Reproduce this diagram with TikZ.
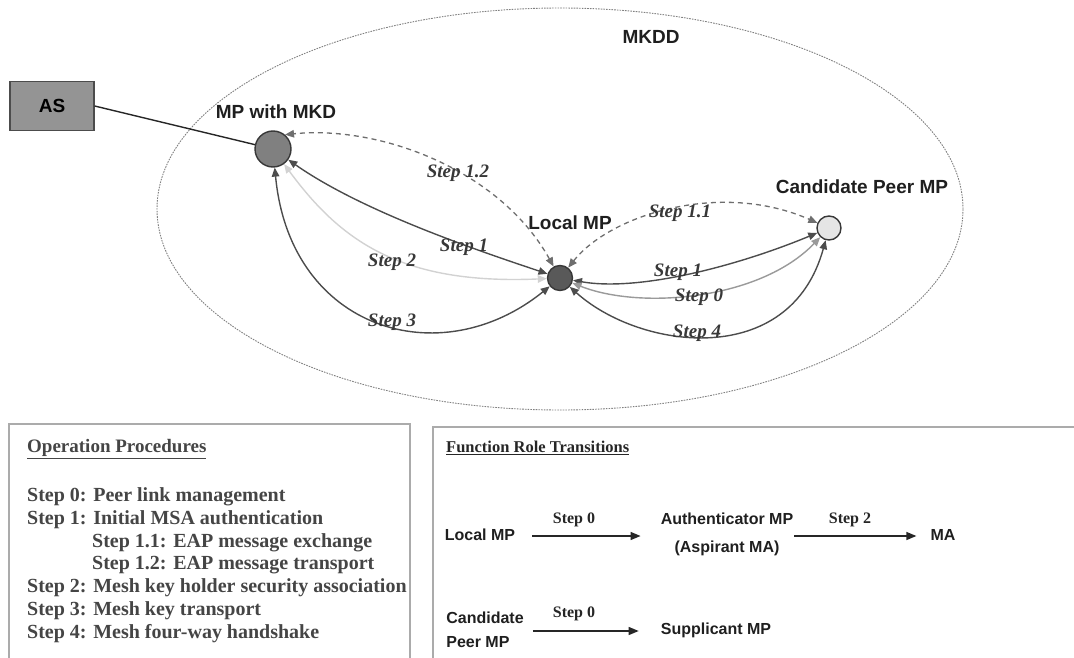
\documentclass[tikz,border=0pt]{standalone}
\usepackage{fontspec}
\setmainfont{Liberation Serif}
\setsansfont{Liberation Sans}
\usetikzlibrary{arrows.meta}
\definecolor{linkdark}{HTML}{4C4C4C}
\definecolor{linkmid}{HTML}{9A9A9A}
\definecolor{linklight}{HTML}{D2D2D2}
\definecolor{linkdash}{HTML}{6E6E6E}
\definecolor{panelrule}{HTML}{ABABAB}
\definecolor{proctext}{HTML}{454545}
\begin{document}
\begin{tikzpicture}[x=1pt,y=-1pt,
  every node/.style={inner sep=0pt},
  site/.style={circle,draw=black!78,line width=1.4pt,inner sep=0pt},
  sitelabel/.style={font=\sffamily\bfseries\fontsize{19}{22}\selectfont,text=black!88},
  steplabel/.style={font=\bfseries\itshape\fontsize{19}{22}\selectfont,text=black!78},
  tips/.style={{Triangle[length=9pt,width=7.5pt]}-{Triangle[length=9pt,width=7.5pt]}},
  link/.style={tips,line width=1.4pt,draw=linkdark},
  linkzero/.style={tips,line width=1.4pt,draw=linkmid},
  linktwo/.style={tips,line width=1.4pt,draw=linklight},
  linkdash/.style={tips,line width=1.3pt,draw=linkdash,dash pattern=on 5pt off 4pt},
  panel/.style={draw=panelrule,line width=1.2pt},
  proctitle/.style={anchor=west,font=\bfseries\fontsize{19}{22}\selectfont,text=proctext},
  procline/.style={anchor=west,font=\bfseries\fontsize{20}{23}\selectfont,text=proctext,text height=13pt,text depth=4pt},
  roletitle/.style={anchor=west,font=\bfseries\fontsize{16.5}{20}\selectfont,text=black!85},
  role/.style={font=\sffamily\bfseries\fontsize{16}{19}\selectfont,text=black!88},
  rolestep/.style={font=\bfseries\fontsize{16}{19}\selectfont,text=black!85},
  rolearrow/.style={line width=1.3pt,draw=black!85,-{Triangle[length=10pt,width=8pt]}}
]
\useasboundingbox (0,0) rectangle (1074,658);

% mesh key distribution domain
\draw[draw=black!50,line width=0.9pt,dash pattern=on 1.6pt off 1.1pt]
  (560,209) ellipse [x radius=403pt, y radius=201pt];
\node[sitelabel] (mkdd) at (651,37) {MKDD};

% authentication server and mesh points
\node[draw=black!70,fill=black!42,line width=1.3pt,minimum width=84pt,minimum height=49pt,
      font=\sffamily\bfseries\fontsize{19}{22}\selectfont] (as) at (52,106) {AS};
\node[site,fill=black!50,minimum size=36pt] (mkd) at (273,149) {};
\node[site,fill=black!65,minimum size=25pt] (lmp) at (560,278) {};
\node[site,fill=black!10,minimum size=24pt] (cmp) at (829,228) {};

\node[sitelabel] (mkdlab) at (276,112) {MP with MKD};
\node[sitelabel] (lmplab) at (570,223) {Local MP};
\node[sitelabel] (cmplab) at (862,187) {Candidate Peer MP};

\draw[line width=1.4pt,draw=black!85] (as.east) -- (mkd);

% protocol steps between the mesh points
\draw[linkdash] (lmp) .. controls (500,170) and (380,125) .. (mkd.50);
\draw[linkdash] (lmp) .. controls (610,215) and (720,180) .. (cmp);
\draw[link] (lmp) .. controls (470,248) and (360,210) .. (mkd);
\draw[link] (lmp) .. controls (640,292) and (740,265) .. (cmp);
\draw[linktwo] (mkd) .. controls (340,240) and (400,285) .. (lmp);
\draw[link] (mkd) .. controls (290,330) and (440,375) .. (lmp);
\draw[linkzero] (lmp) .. controls (640,310) and (760,300) .. (cmp);
\draw[link] (lmp) .. controls (640,350) and (790,370) .. (cmp);

\node[steplabel] (s12) at (458,173) {Step 1.2};
\node[steplabel] (s11) at (680,213) {Step 1.1};
\node[steplabel] (s1a) at (464,247) {Step 1};
\node[steplabel] (s2) at (392,262) {Step 2};
\node[steplabel] (s3) at (392,322) {Step 3};
\node[steplabel] (s1b) at (678,272) {Step 1};
\node[steplabel] (s0) at (699,297) {Step 0};
\node[steplabel] (s4) at (697,333) {Step 4};

% operation procedures panel
\draw[panel] (9,424) rectangle (410,672);
\node[proctitle] (optitle) at (27,449) {\underline{Operation Procedures}};
\node[procline] (op0) at (27,497) {Step 0: Peer link management};
\node[procline] (op1) at (27,520) {Step 1: Initial MSA authentication};
\node[procline] (op11) at (92,543) {Step 1.1: EAP message exchange};
\node[procline] (op12) at (92,565) {Step 1.2: EAP message transport};
\node[procline] (op2) at (27,588) {Step 2: Mesh key holder security association};
\node[procline] (op3) at (27,611) {Step 3: Mesh key transport};
\node[procline] (op4) at (27,634) {Step 4: Mesh four-way handshake};

% function role transitions panel
\draw[panel] (433,427) rectangle (1090,672);
\node[roletitle] (rttitle) at (446,448) {\underline{Function Role Transitions}};
\node[role] (rlocal) at (480,535) {Local MP};
\node[role,align=center,font=\sffamily\bfseries\fontsize{16}{28}\selectfont] (rauth) at (727,534) {Authenticator MP\\(Aspirant MA)};
\node[role] (rma) at (943,535) {MA};
\node[role,align=left,font=\sffamily\bfseries\fontsize{16}{24}\selectfont] (rcand) at (485,630) {Candidate\\Peer MP};
\node[role] (rsupp) at (716,630) {Supplicant MP};

\draw[rolearrow] ([xshift=17pt]rlocal.east |- 0,536) -- ([xshift=-20pt]rauth.west |- 0,536);
\draw[rolearrow] ([xshift=1pt]rauth.east |- 0,536) -- ([xshift=-14pt]rma.west |- 0,536);
\draw[rolearrow] ([xshift=9pt]rcand.east |- 0,631) -- ([xshift=-22pt]rsupp.west |- 0,631);

\node[rolestep] (rs0) at (574,520) {Step 0};
\node[rolestep] (rs2) at (850,520) {Step 2};
\node[rolestep] (rs0b) at (574,614) {Step 0};
\end{tikzpicture}
\end{document}
